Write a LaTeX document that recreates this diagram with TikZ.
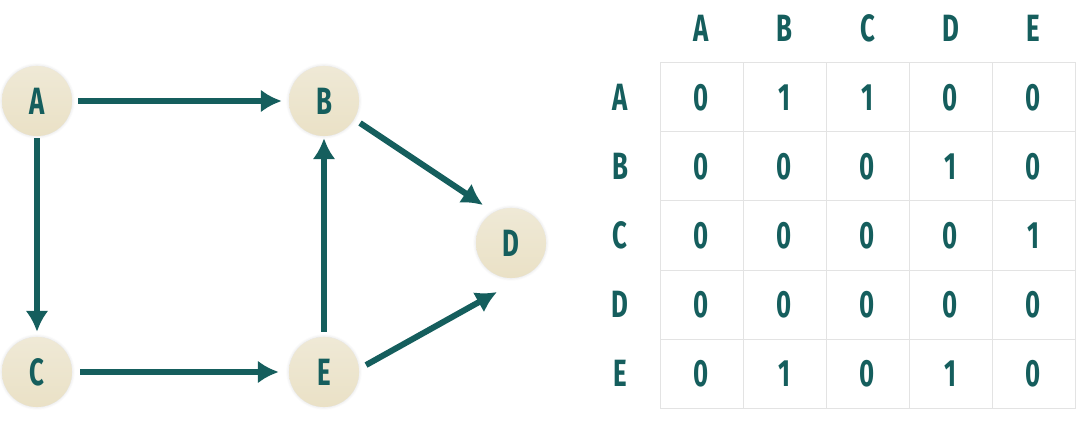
\documentclass[tikz,border=0pt]{standalone}
\usepackage{fontspec}
\newfontfamily\lblfont{Fira Sans}[FakeStretch=0.68]
\usepackage{tikz}
\usetikzlibrary{calc, positioning, arrows.meta, shadows.blur}

\definecolor{darkteal}{HTML}{155E5D}
\definecolor{sand}{HTML}{EAE1C6}
\definecolor{sandtop}{HTML}{EFE9D6}
\definecolor{gridgray}{HTML}{E3E3E3}

\tikzset{
  vertex/.style={circle, minimum size=70pt, inner sep=0pt,
    top color=sandtop, bottom color=sand, draw=none,
    blur shadow={shadow blur steps=6, shadow xshift=0pt, shadow yshift=0pt,
      shadow blur radius=3pt, shadow opacity=15},
    text=darkteal, font=\lblfont\bfseries\fontsize{38}{40}\selectfont},
  edge/.style={line width=6pt, darkteal, -{Latex[length=21pt,width=23pt]}},
  lbl/.style={text=darkteal, inner sep=0pt, font=\lblfont\bfseries\fontsize{38}{40}\selectfont},
  cell/.style={lbl}
}

\begin{document}
\begin{tikzpicture}[x=1pt, y=-1pt]
        \useasboundingbox (0,0) rectangle (1087,422);
        \pgfmathsetmacro{\tx}{660}
        \pgfmathsetmacro{\ty}{63}
        \pgfmathsetmacro{\cw}{83}
        \pgfmathsetmacro{\rh}{69}
        % graph
        \node[vertex] (A) at (37,101) {A};
        \node[vertex] (B) at (324,101) {B};
        \node[vertex] (C) at (37,372) {C};
        \node[vertex] (E) at (324,372) {E};
        \node[vertex] (D) at (511,243) {D};
        \coordinate (Din) at ($(D)+(-28,-38)$);
        \coordinate (Dlow) at ($(D)+(-14,49)$);
        \draw[edge, shorten <=6pt, shorten >=7pt] (A) -- (B);
        \draw[edge, shorten <=2pt, shorten >=5pt] (A) -- (C);
        \draw[edge, shorten <=7pt] (B.-31) -- (Din);
        \draw[edge, shorten <=8pt, shorten >=10pt] (C) -- (E);
        \draw[edge, shorten <=5pt, shorten >=2pt] (E) -- (B);
        \draw[edge, shorten <=8pt] (E.5) -- (Dlow);
        % matrix grid
        \draw[gridgray, line width=1pt] (\tx,\ty) rectangle ({\tx+5*\cw},{\ty+5*\rh});
        \foreach \i in {1,...,4} {
          \draw[gridgray, line width=1pt] ({\tx+\i*\cw},\ty) -- ({\tx+\i*\cw},{\ty+5*\rh});
          \draw[gridgray, line width=1pt] (\tx,{\ty+\i*\rh}) -- ({\tx+5*\cw},{\ty+\i*\rh});
        }
        % headers
        \foreach \n [count=\i from 0] in {A,B,C,D,E} {
          \node[lbl] (col\n) at ({\tx+(\i+0.5)*\cw},28) {\n};
          \node[lbl] (row\n) at (620,{\ty+(\i+0.5)*\rh}) {\n};
        }
        % entries
        \foreach \r/\vals [count=\j from 0] in {A/{0,1,1,0,0}, B/{0,0,0,1,0},
            C/{0,0,0,0,1}, D/{0,0,0,0,0}, E/{0,1,0,1,0}} {
          \foreach \v [count=\i from 0] in \vals {
            \node[cell] (m\r\i) at ({\tx+(\i+0.5)*\cw},{\ty+(\j+0.5)*\rh}) {\v};
          }
        }
    \end{tikzpicture}
\end{document}
